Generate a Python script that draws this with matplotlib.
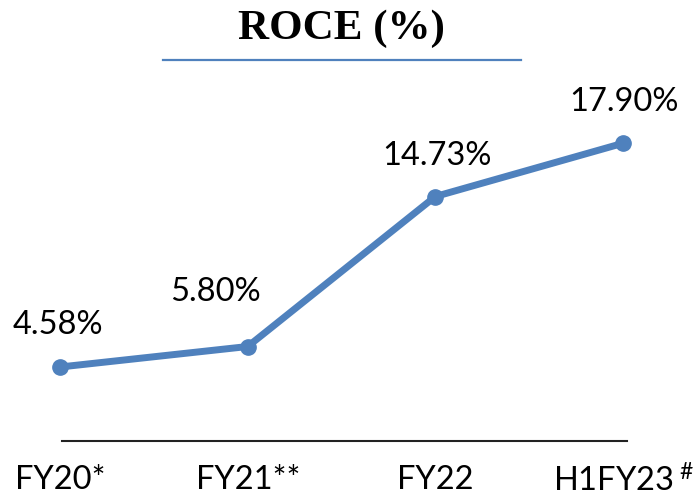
import matplotlib
matplotlib.use('Agg')
import matplotlib.pyplot as plt

categories = ['FY20*', 'FY21**', 'FY22', r'H1FY23$\,^{\#}$']
roce = [4.58, 5.80, 14.73, 17.90]
labels = ['4.58%', '5.80%', '14.73%', '17.90%']
label_offsets = [(-2, 42), (-32, 55), (2, 41), (1, 41)]  # pixels

plt.rcParams['font.family'] = ['Lato', 'DejaVu Sans']
plt.rcParams['mathtext.default'] = 'regular'

blue = '#4f81bd'

fig = plt.figure(figsize=(6.96, 5), dpi=100)
ax = fig.add_axes([30/696, 59/500, 636/696, 351/500])

x = list(range(len(roce)))
ax.plot(x, roce, color=blue, lw=5, marker='o', markersize=11, clip_on=False,
        solid_capstyle='round')

for xi, yi, txt, off in zip(x, roce, labels, label_offsets):
    ax.annotate(txt, (xi, yi), xytext=off, textcoords='offset pixels',
                ha='center', va='center', fontsize=23.5, color='black')

ax.set_xlim(-0.16, 3.229)
ax.set_ylim(0.175, 21.07)
ax.set_xticks(x)
ax.set_xticklabels(categories, fontsize=23.5)
ax.tick_params(axis='x', length=0, pad=17)
ax.set_yticks([])
for s in ['left', 'right', 'top']:
    ax.spines[s].set_visible(False)
ax.spines['bottom'].set_bounds(0.01, 3.02)
ax.spines['bottom'].set_linewidth(1.5)
ax.spines['bottom'].set_color('#222222')

fig.text(341/696, 1 - 29/500, 'ROCE (%)', ha='center', va='center',
         fontsize=31, fontweight='bold', family=['Liberation Serif', 'DejaVu Serif'])
fig.add_artist(plt.Line2D([163/696, 521/696], [1 - 60/500, 1 - 60/500],
                          color=blue, lw=1.6))

fig.savefig('out.png', dpi=100)
